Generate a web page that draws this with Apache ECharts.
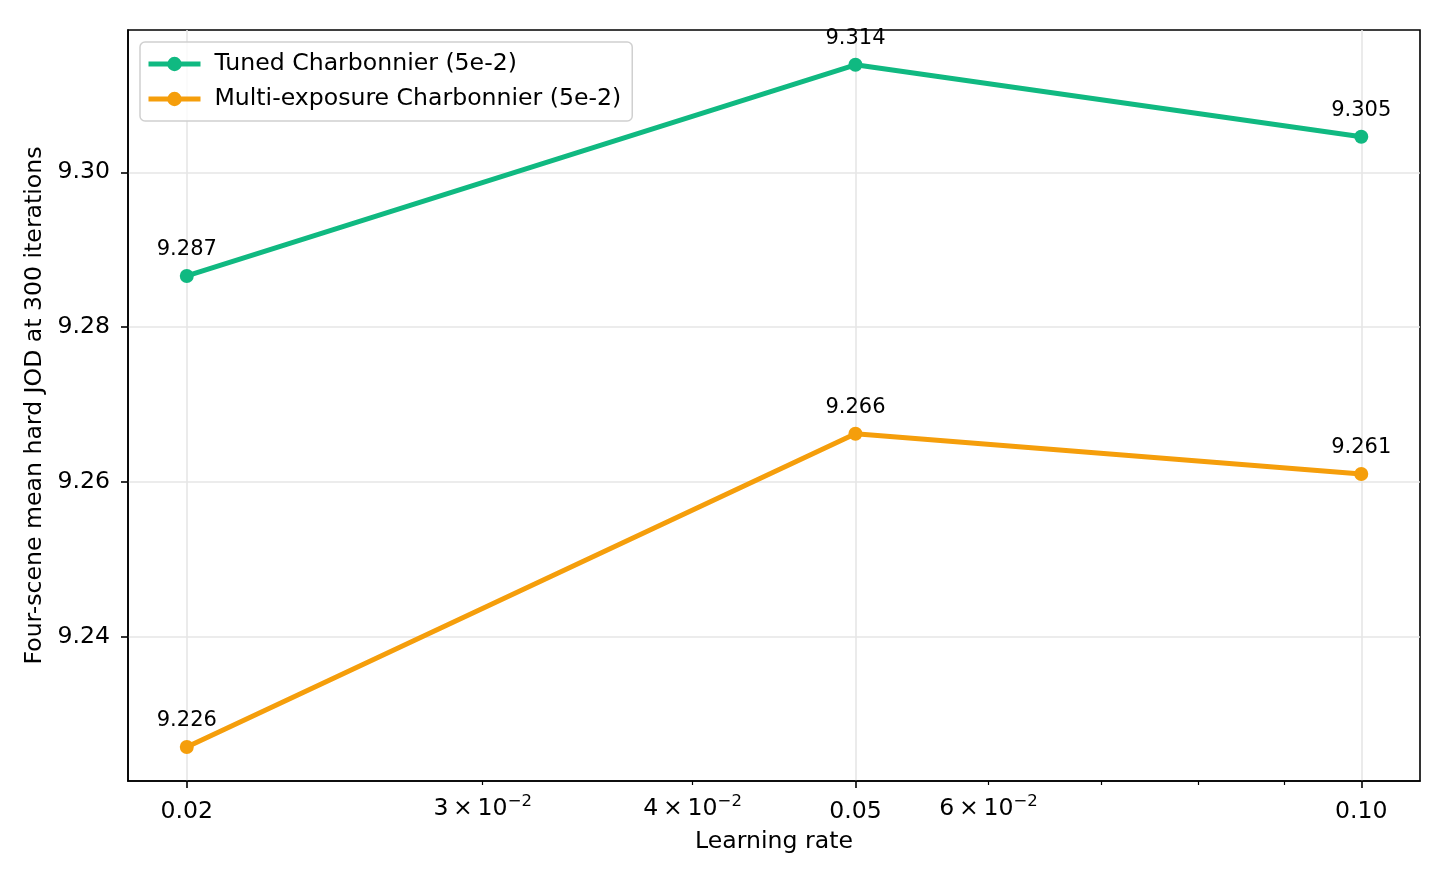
<!DOCTYPE html>
<html>
<head>
<meta charset="utf-8">
<title>Learning rate sweep</title>
<script src="https://cdn.jsdelivr.net/npm/echarts@6/dist/echarts.min.js"></script>
<style>
html, body { margin: 0; padding: 0; background: #fff; }
#chart { width: 1445px; height: 884px; }
</style>
</head>
<body>
<div id="chart"></div>
<script>
// data
var learningRates = [0.02, 0.05, 0.10];
var tunedJOD = [9.2866, 9.3139, 9.3046];
var multiJOD = [9.2257, 9.2662, 9.2610];
var seriesNames = ['Tuned Charbonnier (5e-2)', 'Multi-exposure Charbonnier (5e-2)'];
var yTicks = [9.24, 9.26, 9.28, 9.30];
var xMajorTicks = [0.02, 0.05, 0.10];
var xMinorTicks = [0.03, 0.04, 0.06, 0.07, 0.08, 0.09];
var xMinorLabels = [0.03, 0.04, 0.06];

var FONT = 'DejaVu Sans';
var FS = 23.6;

function pairs(xs, ys) {
    return xs.map(function (x, i) { return [x, ys[i]]; });
}

var chart = echarts.init(document.getElementById('chart'));

var option = {
    animation: false,
    backgroundColor: '#fff',
    textStyle: { fontFamily: FONT, color: '#000' },
    grid: {
        left: 128, right: 25, top: 30, bottom: 103,
        show: true, borderColor: '#000', borderWidth: 1.6, backgroundColor: 'transparent'
    },
    legend: {
        left: 140, top: 42,
        orient: 'vertical',
        padding: [10, 11, 10, 6],
        itemWidth: 52, itemHeight: 18, itemGap: 11,
        backgroundColor: 'rgba(255,255,255,0.8)',
        borderColor: '#d0d0d0', borderWidth: 1.5, borderRadius: 5,
        lineStyle: { width: 5 },
        textStyle: { fontFamily: FONT, fontSize: FS, color: '#000', padding: [0, 0, 0, 9] },
        data: seriesNames
    },
    xAxis: [
        {
            type: 'log', logBase: 10,
            min: 0.018452, max: 0.10838,
            position: 'bottom',
            name: 'Learning rate', nameLocation: 'middle', nameGap: 49,
            nameTextStyle: { fontFamily: FONT, fontSize: FS, color: '#000' },
            axisLine: { show: true, onZero: false, lineStyle: { color: '#000', width: 1.6 } },
            axisTick: { show: true, length: 7, lineStyle: { color: '#000', width: 1.6 }, customValues: xMajorTicks },
            axisLabel: {
                margin: 19, fontFamily: FONT, fontSize: FS, color: '#000',
                customValues: xMajorTicks,
                formatter: function (v) { return Number(v).toFixed(2); }
            },
            splitLine: { show: true, lineStyle: { color: '#e6e6e6', width: 1.6 } },
            minorTick: { show: false }
        },
        {
            type: 'log', logBase: 10,
            min: 0.018452, max: 0.10838,
            position: 'bottom',
            axisLine: { show: false },
            axisTick: { show: true, length: 4, lineStyle: { color: '#000', width: 1.2 }, customValues: xMinorTicks },
            axisLabel: {
                margin: 12, color: '#000',
                customValues: xMinorLabels,
                formatter: function (v) {
                    var m = Math.round(v * 100);
                    return '{b|' + m + '\u2009×\u200910}{s|\u22122}';
                },
                rich: {
                    b: { fontFamily: FONT, fontSize: FS, lineHeight: 32, color: '#000' },
                    s: { fontFamily: FONT, fontSize: 16.5, lineHeight: 16, verticalAlign: 'top', color: '#000' }
                }
            },
            splitLine: { show: false }
        }
    ],
    yAxis: {
        type: 'value',
        min: 9.2213, max: 9.3184,
        name: 'Four-scene mean hard JOD at 300 iterations',
        nameLocation: 'middle', nameGap: 80,
        nameTextStyle: { fontFamily: FONT, fontSize: FS, color: '#000' },
        axisLine: { show: true, lineStyle: { color: '#000', width: 1.6 } },
        axisTick: { show: true, length: 7, lineStyle: { color: '#000', width: 1.6 }, customValues: yTicks },
        axisLabel: {
            margin: 18, fontFamily: FONT, fontSize: FS, color: '#000',
            customValues: yTicks,
            formatter: function (v) { return Number(v).toFixed(2); }
        },
        splitLine: { show: true, lineStyle: { color: '#e6e6e6', width: 1.6 } }
    },
    series: [
        {
            name: seriesNames[0], type: 'line', xAxisIndex: 0,
            data: pairs(learningRates, tunedJOD),
            color: '#10b981',
            lineStyle: { width: 5, color: '#10b981' },
            itemStyle: { color: '#10b981' },
            symbol: 'circle', symbolSize: 14, showAllSymbol: true,
            label: {
                show: true, position: 'top', distance: 9,
                fontFamily: FONT, fontSize: 21, color: '#000',
                formatter: function (p) { return p.value[1].toFixed(3); }
            },
            z: 3
        },
        {
            name: seriesNames[1], type: 'line', xAxisIndex: 0,
            data: pairs(learningRates, multiJOD),
            color: '#f59e0b',
            lineStyle: { width: 5, color: '#f59e0b' },
            itemStyle: { color: '#f59e0b' },
            symbol: 'circle', symbolSize: 14, showAllSymbol: true,
            label: {
                show: true, position: 'top', distance: 9,
                fontFamily: FONT, fontSize: 21, color: '#000',
                formatter: function (p) { return p.value[1].toFixed(3); }
            },
            z: 2
        }
    ]
};

chart.setOption(option);
</script>
</body>
</html>
